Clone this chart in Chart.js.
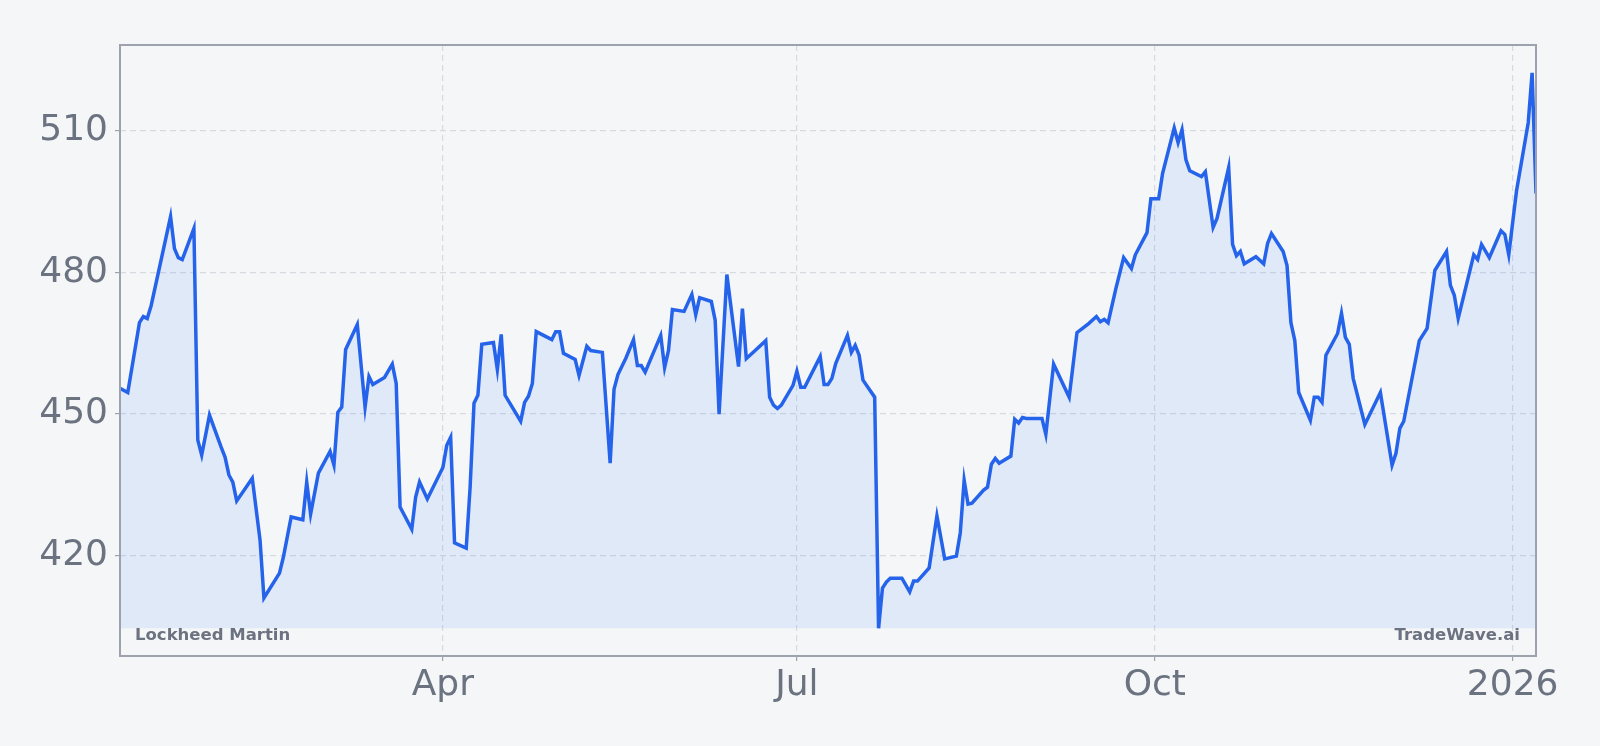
<!DOCTYPE html>
<html>
<head>
<meta charset="utf-8">
<script src="https://cdn.jsdelivr.net/npm/chart.js@4.4.1/dist/chart.umd.min.js"></script>
<style>
  html, body { margin: 0; padding: 0; background: #f5f6f8; }
  #wrap { width: 1600px; height: 746px; position: relative; }
</style>
</head>
<body>
<div id="wrap"><canvas id="c" width="1600" height="746"></canvas></div>
<script>
// Days since 2025-01-01 for each plotted close
const days = [
  7, 9, 12, 13, 14, 15, 20, 21, 22, 23, 26, 27, 28, 30, 33, 34, 35, 36, 37, 41,
  43, 44, 48, 49, 51, 54, 55, 56, 58, 61, 62, 63, 64, 65, 68, 70, 71, 72, 75, 77,
  78, 79, 82, 83, 84, 86, 90, 91, 92, 93, 96, 97, 98, 99, 100, 103, 104, 105, 106, 110,
  111, 112, 113, 114, 118, 119, 120, 121, 124, 125, 127, 128, 131, 133, 134, 135, 137, 139, 140, 141,
  142, 146, 147, 148, 149, 152, 154, 155, 156, 159, 160, 161, 163, 166, 167, 168, 170, 173, 174, 175,
  176, 177, 180, 181, 182, 183, 187, 188, 189, 190, 191, 194, 195, 196, 197, 198, 201, 202, 203, 204,
  205, 208, 210, 211, 212, 215, 217, 219, 222, 223, 224, 225, 226, 229, 230, 231, 232, 233, 236, 237,
  238, 239, 240, 244, 245, 247, 251, 253, 256, 258, 259, 260, 261, 263, 265, 267, 268, 271, 272, 274,
  275, 278, 279, 280, 281, 282, 285, 286, 288, 289, 292, 293, 294, 295, 296, 299, 301, 302, 303, 306,
  307, 308, 309, 310, 313, 314, 315, 316, 317, 320, 321, 322, 323, 324, 327, 331, 334, 335, 336, 337,
  341, 343, 345, 348, 349, 350, 351, 355, 356, 357, 359, 362, 363, 364, 366, 369, 370, 371
];
// Lockheed Martin closing price (USD)
const prices = [
  455.4, 454.5, 469.3, 470.6, 470.2, 472.9, 491.8, 485.0, 483.1, 482.7, 489.3, 444.4, 441.2, 449.7, 442.9, 440.8, 437.0, 435.5, 431.5, 436.3,
  423.2, 410.9, 416.2, 419.6, 428.1, 427.5, 435.5, 428.7, 437.4, 442.0, 439.1, 450.3, 451.4, 463.6, 468.9, 451.4, 457.9, 456.2, 457.7, 460.5,
  456.4, 430.2, 425.5, 432.3, 435.5, 431.9, 438.6, 443.3, 445.0, 422.6, 421.5, 434.4, 452.2, 453.9, 464.7, 465.1, 459.4, 466.8, 453.9, 448.4,
  452.4, 453.7, 456.4, 467.4, 465.7, 467.4, 467.4, 462.8, 461.5, 458.1, 464.3, 463.4, 463.0, 439.5, 455.2, 458.3, 461.7, 465.7, 460.2, 460.2,
  458.8, 466.6, 459.8, 463.4, 472.1, 471.7, 475.3, 471.0, 474.6, 473.8, 469.8, 449.9, 479.5, 460.0, 472.3, 461.7, 463.2, 465.5, 453.5, 451.8,
  451.1, 451.8, 456.0, 459.0, 455.6, 455.6, 462.1, 456.2, 456.2, 457.5, 460.7, 466.6, 463.0, 464.5, 462.4, 457.1, 453.5, 404.5, 413.0, 414.3,
  415.1, 415.1, 412.2, 414.5, 414.5, 417.3, 428.3, 419.2, 419.8, 424.7, 435.9, 430.8, 431.0, 433.8, 434.4, 439.3, 440.5, 439.5, 441.0, 448.8,
  448.0, 449.2, 449.0, 449.0, 445.6, 460.5, 453.5, 467.2, 469.1, 470.6, 469.5, 470.0, 469.3, 476.5, 483.1, 480.8, 483.7, 488.4, 495.6, 495.6,
  500.9, 510.6, 507.5, 510.2, 503.9, 501.5, 500.3, 501.3, 489.5, 491.4, 502.2, 485.9, 483.5, 484.4, 481.8, 483.3, 481.8, 486.1, 488.2, 484.4,
  481.4, 469.3, 465.5, 454.5, 448.6, 453.5, 453.5, 452.4, 462.4, 467.0, 471.3, 466.2, 464.7, 457.5, 447.7, 454.5, 439.1, 441.6, 446.9, 448.4,
  465.5, 468.1, 480.4, 484.4, 477.2, 475.1, 470.2, 483.7, 482.7, 485.9, 483.1, 488.8, 488.0, 483.7, 497.3, 511.7, 522.3, 496.7
];
// X tick positions (days since 2025-01-01) and their labels
const xTickDays = [90, 181, 273, 365];
const xTickLabels = ['Apr', 'Jul', 'Oct', '2026'];
// Y tick values
const yTicks = [420, 450, 480, 510];
const tickerName = 'Lockheed Martin';
const brandName = 'TradeWave.ai';

const points = days.map((d, i) => ({ x: d, y: prices[i] }));
const pMin = Math.min(...prices), pMax = Math.max(...prices);
const pad = (pMax - pMin) * 0.05;

const frame = {
  id: 'frame',
  afterDraw(chart) {
    const { ctx, chartArea: a } = chart;
    ctx.save();
    ctx.strokeStyle = '#9ca3af';
    ctx.lineWidth = 2;
    ctx.strokeRect(a.left, a.top, a.right - a.left, a.bottom - a.top);
    ctx.fillStyle = '#6b7280';
    ctx.font = 'bold 16.5px "DejaVu Sans"';
    ctx.textBaseline = 'alphabetic';
    ctx.textAlign = 'left';
    ctx.fillText(tickerName, a.left + 15, a.bottom - 16);
    ctx.textAlign = 'right';
    ctx.fillText(brandName, a.right - 16, a.bottom - 16);
    ctx.restore();
  }
};

const gridCommon = {
  color: '#d6dbe2',
  lineWidth: 1.2,
  tickColor: '#9ca3af',
  tickLength: 5,
  tickBorderDash: [],
  drawTicks: true
};

new Chart(document.getElementById('c'), {
  type: 'line',
  data: {
    datasets: [{
      data: points,
      borderColor: '#2563eb',
      borderWidth: 3.5,
      backgroundColor: 'rgba(59,130,246,0.11)',
      fill: { value: pMin },
      pointRadius: 0,
      tension: 0,
      borderJoinStyle: 'miter'
    }]
  },
  options: {
    responsive: false,
    animation: false,
    devicePixelRatio: 1,
    layout: { padding: { top: 45, right: 64, left: 0, bottom: 0 } },
    plugins: { legend: { display: false }, tooltip: { enabled: false } },
    scales: {
      x: {
        type: 'linear',
        min: days[0],
        max: days[days.length - 1],
        afterBuildTicks(s) { s.ticks = xTickDays.map(v => ({ value: v })); },
        afterFit(s) { s.height = 90; },
        ticks: {
          autoSkip: false,
          maxRotation: 0,
          padding: 3,
          color: '#6b7280',
          font: { family: 'DejaVu Sans', size: 36 },
          callback(v) { const i = xTickDays.indexOf(v); return i >= 0 ? xTickLabels[i] : ''; }
        },
        grid: Object.assign({}, gridCommon),
        border: { display: false, dash: [6, 4] }
      },
      y: {
        min: pMin - pad,
        max: pMax + pad,
        afterBuildTicks(s) { s.ticks = yTicks.map(v => ({ value: v })); },
        afterFit(s) { s.width = 120; },
        ticks: {
          padding: 7,
          color: '#6b7280',
          font: { family: 'DejaVu Sans', size: 36 },
          callback(v) { return String(v); }
        },
        grid: Object.assign({}, gridCommon),
        border: { display: false, dash: [6, 4] }
      }
    }
  },
  plugins: [frame]
});
</script>
</body>
</html>
